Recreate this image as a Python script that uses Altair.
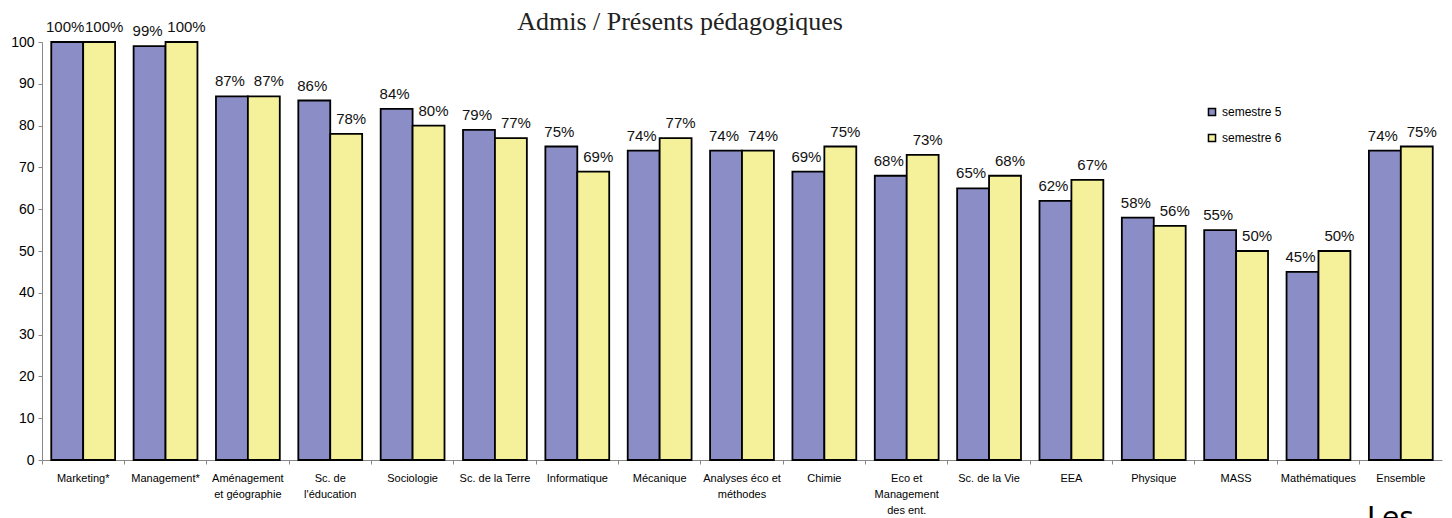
import altair as alt
import pandas as pd

categories = ["Marketing*", "Management*", "Aménagement\net géographie", "Sc. de\nl'éducation",
              "Sociologie", "Sc. de la Terre", "Informatique", "Mécanique",
              "Analyses éco et\nméthodes", "Chimie", "Eco et\nManagement\ndes ent.", "Sc. de la Vie",
              "EEA", "Physique", "MASS", "Mathématiques", "Ensemble"]
sem5 = [100, 99, 87, 86, 84, 79, 75, 74, 74, 69, 68, 65, 62, 58, 55, 45, 74]
sem6 = [100, 100, 87, 78, 80, 77, 69, 77, 74, 75, 73, 68, 67, 56, 50, 50, 75]
series = ["semestre 5", "semestre 6"]
colors = ["#8B8DC6", "#F5F19A"]

rows = []
for c, a, b in zip(categories, sem5, sem6):
    rows.append({"cat": c, "serie": series[0], "val": a, "lab": f"{a}%"})
    rows.append({"cat": c, "serie": series[1], "val": b, "lab": f"{b}%"})
df = pd.DataFrame(rows)

FONT = "Liberation Sans"

x = alt.X("cat:N", sort=categories, title=None,
          scale=alt.Scale(paddingInner=0, paddingOuter=0),
          axis=alt.Axis(labelExpr="split(datum.value, '\\n')", labelAngle=0,
                        labelFont=FONT, labelFontSize=11, labelColor="#000",
                        labelPadding=8, labelLineHeight=16, bandPosition=0,
                        tickColor="#888", tickSize=4, domainColor="#888",
                        labelBaseline="top"))
xo = alt.XOffset("serie:N", sort=series, scale=alt.Scale(paddingOuter=0.29, paddingInner=0))

base = alt.Chart(df)

bars = base.mark_bar(stroke="black", strokeWidth=1.8).encode(
    x=x, xOffset=xo,
    y=alt.Y("val:Q", title=None, scale=alt.Scale(domain=[0, 100], nice=False),
            axis=alt.Axis(values=list(range(0, 101, 10)), grid=False,
                          labelFont=FONT, labelFontSize=14, labelColor="#000",
                          tickColor="#888", tickSize=4, domainColor="#888", labelPadding=4)),
    color=alt.Color("serie:N", sort=series, scale=alt.Scale(domain=series, range=colors),
                    legend=alt.Legend(title=None, orient="none", legendX=1164, legendY=64,
                                      symbolType="square", symbolSize=50, symbolStrokeColor="black",
                                      symbolStrokeWidth=1.5, labelFont=FONT, labelFontSize=12,
                                      labelColor="#000", rowPadding=12, labelOffset=4)),
)

labels5 = base.transform_filter(alt.datum.serie == series[0]).mark_text(
    baseline="alphabetic", dy=-10, dx=-2, font=FONT, fontSize=15, color="#111").encode(
    x=x, xOffset=xo, y=alt.Y("val:Q"), text="lab:N")
labels6 = base.transform_filter(alt.datum.serie == series[1]).mark_text(
    baseline="alphabetic", dy=-10, dx=5, font=FONT, fontSize=15, color="#111").encode(
    x=x, xOffset=xo, y=alt.Y("val:Q"), text="lab:N")

les = alt.Chart(pd.DataFrame({"t": ["Les"]})).mark_text(
    font="DejaVu Sans", fontSize=28, align="left", baseline="top", color="#000").encode(
    x=alt.value(1325), y=alt.value(463), text="t:N")

chart = alt.layer(bars, labels5, labels6, les).properties(
    width=1400, height=418,
    title=alt.TitleParams("Admis / Présents pédagogiques", font="Liberation Serif", fontSize=26,
                          fontWeight="normal", color="#222", anchor="middle", dx=-62, offset=-15),
    autosize=alt.AutoSizeParams(type="none"),
    padding={"left": 34, "top": 34, "right": 2, "bottom": 60},
).configure_view(stroke=None)

chart.save("out.html", embed_options={"renderer": "svg", "actions": False})
